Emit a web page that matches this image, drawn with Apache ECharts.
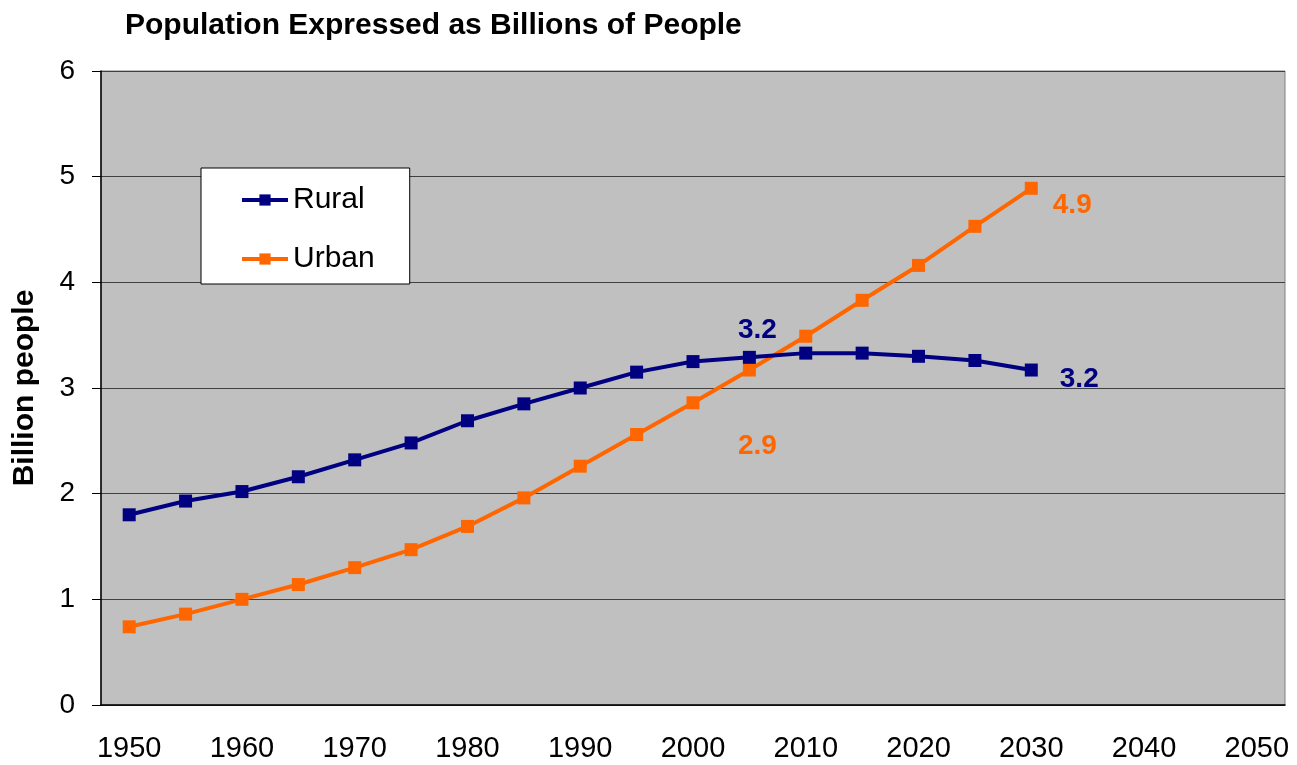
<!DOCTYPE html>
<html>
<head>
<meta charset="utf-8">
<script src="https://cdn.jsdelivr.net/npm/echarts@6/dist/echarts.min.js"></script>
<style>
  html, body { margin: 0; padding: 0; background: #fff; }
  #chart { width: 1297px; height: 765px; }
</style>
</head>
<body>
<div id="chart"></div>
<script>
// categories every 5 years, axis runs to 2050
const years = ['1950', '1955', '1960', '1965', '1970', '1975', '1980', '1985', '1990', '1995', '2000',
  '2005', '2010', '2015', '2020', '2025', '2030', '2035', '2040', '2045', '2050'];
// billions, 1950-2030
const rural = [1.80, 1.93, 2.02, 2.16, 2.32, 2.48, 2.69, 2.85, 3.00, 3.15, 3.25, 3.29, 3.33, 3.33, 3.30, 3.26, 3.17];
const urban = [0.74, 0.86, 1.00, 1.14, 1.30, 1.47, 1.69, 1.96, 2.26, 2.56, 2.86, 3.17, 3.49, 3.83, 4.16, 4.53, 4.89];
// annotated points: index -> text
const ruralNotes = { 11: '3.2', 16: '3.2' };
const urbanNotes = { 11: '2.9', 16: '4.9' };

const RURAL = '#000080';
const URBAN = '#FF6600';
const FONT = 'Liberation Sans, Arial, sans-serif';

function withNotes(values, notes, color, placement) {
  return values.map(function (v, i) {
    if (!(i in notes)) return v;
    return {
      value: v,
      label: Object.assign({
        show: true,
        formatter: notes[i],
        color: color,
        fontFamily: FONT,
        fontWeight: 'bold',
        fontSize: 28
      }, placement[i])
    };
  });
}

const chart = echarts.init(document.getElementById('chart'));
chart.setOption({
  animation: false,
  title: {
    text: 'Population Expressed as Billions of People',
    left: 120,
    top: 6,
    textStyle: { fontFamily: FONT, fontWeight: 'bold', fontSize: 30, color: '#000' }
  },
  legend: {
    orient: 'vertical',
    left: 201,
    top: 168,
    padding: [17, 35, 10, 39],
    itemGap: 29,
    itemWidth: 46,
    itemHeight: 14,
    backgroundColor: '#fff',
    borderColor: '#000',
    borderWidth: 1,
    lineStyle: { width: 4 },
    textStyle: { fontFamily: FONT, fontSize: 30, color: '#000' },
    data: ['Rural', 'Urban']
  },
  grid: {
    left: 101,
    right: 12,
    top: 71,
    bottom: 60,
    show: true,
    backgroundColor: '#C0C0C0',
    borderColor: '#808080',
    borderWidth: 1
  },
  xAxis: {
    type: 'category',
    data: years,
    boundaryGap: true,
    axisLine: { lineStyle: { color: '#000', width: 1.5 } },
    axisTick: { interval: 0, length: 9, lineStyle: { color: '#000' } },
    axisLabel: { interval: 1, margin: 29, fontFamily: FONT, fontSize: 29, color: '#000' },
    splitLine: { show: false }
  },
  yAxis: {
    type: 'value',
    min: 0,
    max: 6,
    interval: 1,
    name: 'Billion people',
    nameLocation: 'middle',
    nameGap: 61,
    nameTextStyle: { fontFamily: FONT, fontWeight: 'bold', fontSize: 30, color: '#000' },
    axisLine: { show: true, lineStyle: { color: '#000', width: 1.5 } },
    axisTick: { show: true, length: 9, lineStyle: { color: '#000' } },
    axisLabel: { margin: 26, fontFamily: FONT, fontSize: 28, color: '#000' },
    splitLine: { lineStyle: { color: '#404040', width: 1 } }
  },
  series: [
    {
      name: 'Rural',
      type: 'line',
      data: withNotes(rural, ruralNotes, RURAL, {
        11: { position: 'top', offset: [8, -2] },
        16: { position: 'right', offset: [17, 9] }
      }),
      symbol: 'rect',
      symbolSize: 13,
      z: 3,
      lineStyle: { color: RURAL, width: 4 },
      itemStyle: { color: RURAL }
    },
    {
      name: 'Urban',
      type: 'line',
      data: withNotes(urban, urbanNotes, URBAN, {
        11: { position: 'bottom', offset: [8, 51] },
        16: { position: 'right', offset: [10, 17] }
      }),
      symbol: 'rect',
      symbolSize: 13,
      z: 2,
      lineStyle: { color: URBAN, width: 4 },
      itemStyle: { color: URBAN }
    }
  ]
});
</script>
</body>
</html>
